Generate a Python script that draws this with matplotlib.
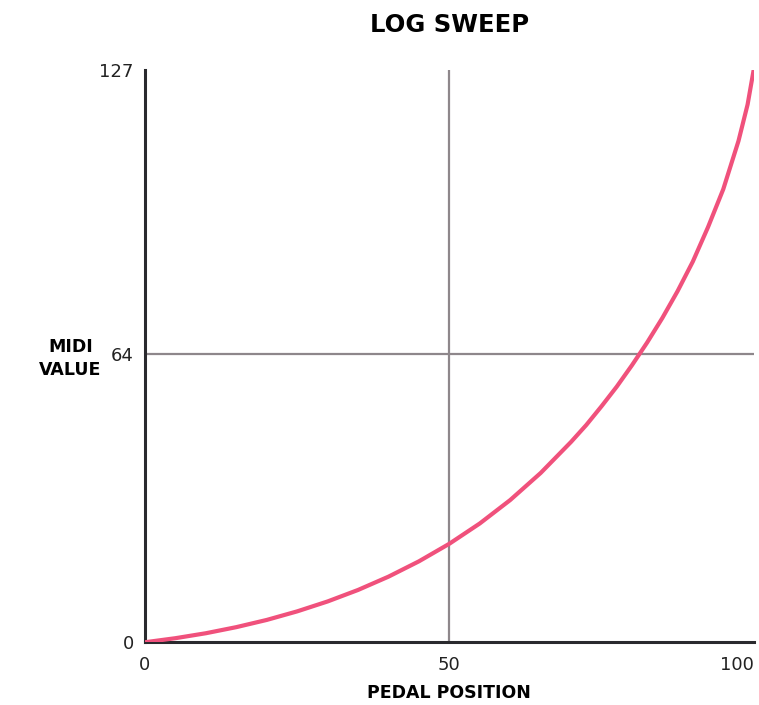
import matplotlib
matplotlib.use("Agg")
import matplotlib.pyplot as plt

# values
pedal_position = [0, 5, 10, 15, 20, 25, 30, 35, 40, 45, 50, 55, 60, 65, 70,
                  72.5, 75, 77.5, 80, 82.5, 85, 87.5, 90, 92.5, 95, 97.5, 99, 100]
midi_value = [0, 0.9, 2.0, 3.35, 4.95, 6.85, 9.05, 11.6, 14.55, 17.95, 21.85,
              26.35, 31.55, 37.55, 44.45, 48.2, 52.35, 56.7, 61.45, 66.5,
              71.95, 77.9, 84.45, 92.1, 100.5, 111.2, 119.3, 127]

x_ticks = [0, 50, 100]
y_ticks = [0, 64, 127]

fig = plt.figure(figsize=(7.59, 7.05), dpi=100)
ax = fig.add_axes([0.191, 0.089, 0.802, 0.812])

grid_color = '#8e878b'
ax.axvline(50, color=grid_color, linewidth=1.6, zorder=1)
ax.axhline(64, color=grid_color, linewidth=1.6, zorder=1)

ax.plot(pedal_position, midi_value, color='#f0517c', linewidth=3.0,
        solid_capstyle='round', solid_joinstyle='round', zorder=3)

ax.set_xlim(0, 100)
ax.set_ylim(0, 127)
ax.set_xticks(x_ticks)
ax.set_yticks(y_ticks)
ax.tick_params(length=0, labelsize=13, colors='#222222')
ax.tick_params(axis='y', pad=8)
ax.tick_params(axis='x', pad=10)
# last x label sits inside the figure edge
ax.get_xticklabels()[-1].set_horizontalalignment('right')

for side in ['top', 'right']:
    ax.spines[side].set_visible(False)
for side in ['left', 'bottom']:
    ax.spines[side].set_color('#2a2a2e')
    ax.spines[side].set_linewidth(2.2)

fig.text(0.592, 0.9645, 'LOG SWEEP', ha='center', va='center',
         fontsize=17.5, fontweight='bold', family='DejaVu Sans')
fig.text(0.592, 0.017, 'PEDAL POSITION', ha='center', va='center',
         fontsize=12.5, fontweight='bold', family='DejaVu Sans')
fig.text(0.093, 0.4915, 'MIDI\nVALUE', ha='center', va='center',
         fontsize=12.5, fontweight='bold', family='DejaVu Sans', linespacing=1.4)

fig.savefig('out.png', dpi=100)
